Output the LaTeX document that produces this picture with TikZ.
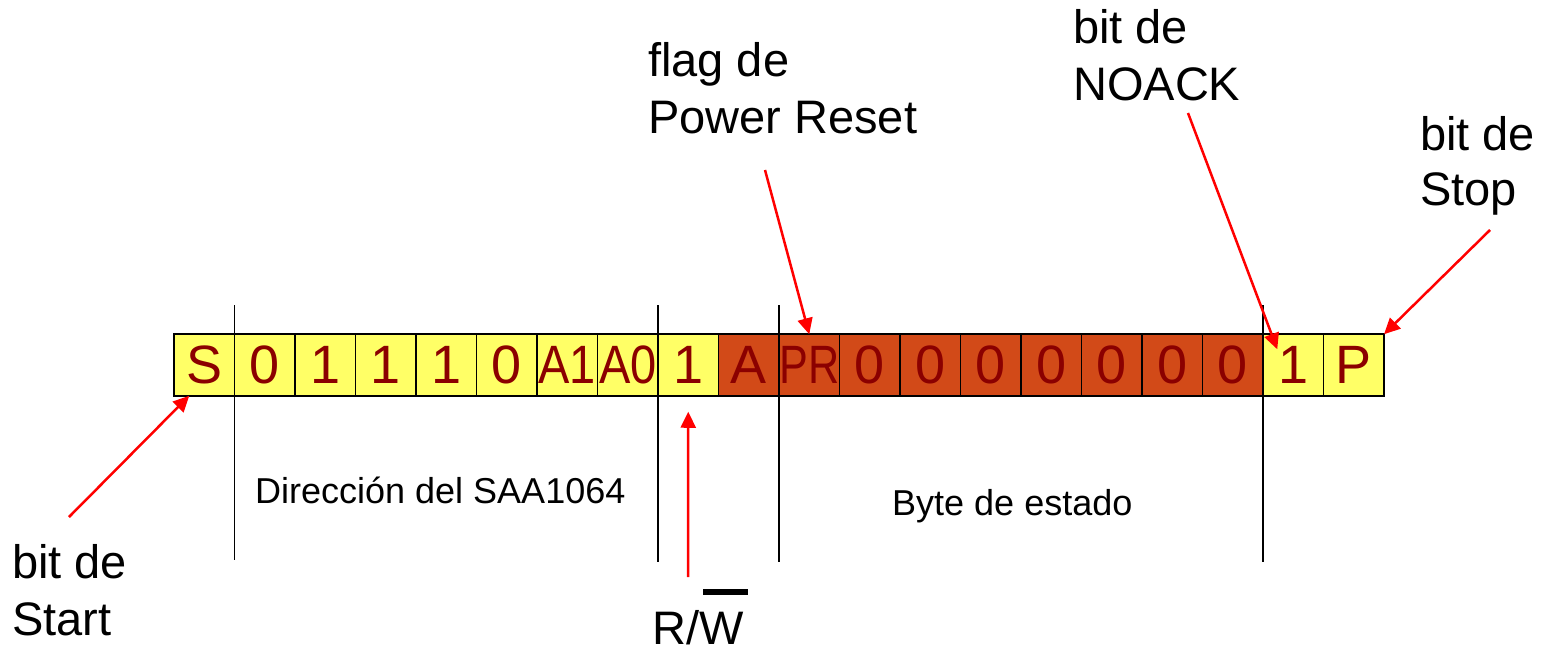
\documentclass[tikz,border=0pt]{standalone}
\usepackage{fontspec}
\usepackage{graphicx}
\setmainfont{Liberation Sans}
\usetikzlibrary{arrows.meta,calc}
\definecolor{cellyellow}{HTML}{FFFF66}
\definecolor{cellorange}{HTML}{D24A18}
\definecolor{celltext}{HTML}{8B0000}
\newcommand\narrowtxt[2]{\scalebox{#1}[1]{#2}}
\begin{document}
\begin{tikzpicture}[x=1pt,y=-1pt,
  cell/.style={draw=black, line width=1.8pt, minimum width=60.5pt, minimum height=61.5pt,
    inner sep=0pt, outer sep=0pt, text=celltext, font=\fontsize{54}{60}\selectfont},
  ylw/.style={cell, fill=cellyellow},
  org/.style={cell, fill=cellorange},
  lbl/.style={font=\fontsize{47}{57}\selectfont, align=left, inner sep=0pt, anchor=base west},
  smalllbl/.style={font=\fontsize{36}{40}\selectfont, inner sep=0pt, anchor=base west},
  redarrow/.style={draw=red, line width=2.5pt, -{Triangle[length=16pt,width=15pt]}},
  divider/.style={draw=black, line width=1.6pt}]
\useasboundingbox (0,0) rectangle (1545,651);
\foreach \t/\s [count=\i] in {S/ylw, 0/ylw, 1/ylw, 1/ylw, 1/ylw, 0/ylw,
    {\narrowtxt{0.87}{A1}}/ylw, {\narrowtxt{0.87}{A0}}/ylw, 1/ylw,
    A/org, {\narrowtxt{0.8}{PR}}/org, 0/org, 0/org, 0/org, 0/org, 0/org, 0/org, 0/org,
    1/ylw, P/ylw}
  \node[\s] (c\i) at ({174+60.5*(\i-0.5)},365) {\t};
% dividers
\draw[divider] ([yshift=29pt]c1.north east) -- ([yshift=-164pt]c1.south east);
\draw[divider] ([yshift=29pt]c8.north east) -- ([yshift=-166pt]c8.south east);
\draw[divider] ([yshift=29pt]c10.north east) -- ([yshift=-166pt]c10.south east);
\draw[divider] ([yshift=29pt]c18.north east) -- ([yshift=-166pt]c18.south east);
% labels (anchor = baseline of last line)
\node[lbl] (start) at (12,635) {bit de\\Start};
\node[lbl] (flag) at (648,133) {flag de\\Power Reset};
\node[lbl] (nack) at (1073,100) {bit de\\NOACK};
\node[lbl, font=\fontsize{47}{55}\selectfont] (stop) at (1420,205) {bit de\\Stop};
\node[smalllbl] (dir) at (255,503) {Dirección del SAA1064};
\node[smalllbl] (byte) at (892,515) {Byte de estado};
\node[lbl] (rw) at (652,644) {R/W};
\fill ([xshift=51pt,yshift=49pt]rw.base west) rectangle ([xshift=96pt,yshift=55pt]rw.base west);
% arrows
\coordinate (startTail) at (69,517);
\coordinate (rwTail) at (688,577);
\coordinate (prTail) at (765,170);
\coordinate (nackTail) at (1188,113);
\coordinate (stopTail) at (1490,230);
\draw[redarrow] (startTail) -- ([xshift=-15pt]c1.south);
\draw[redarrow] (rwTail) -- ([yshift=-16pt]c9.south);
\draw[redarrow] (prTail) -- (c11.north);
\draw[redarrow] (nackTail) -- ([xshift=-16pt,yshift=-15pt]c19.north);
\draw[redarrow] (stopTail) -- (c20.north east);
\end{tikzpicture}
\end{document}
